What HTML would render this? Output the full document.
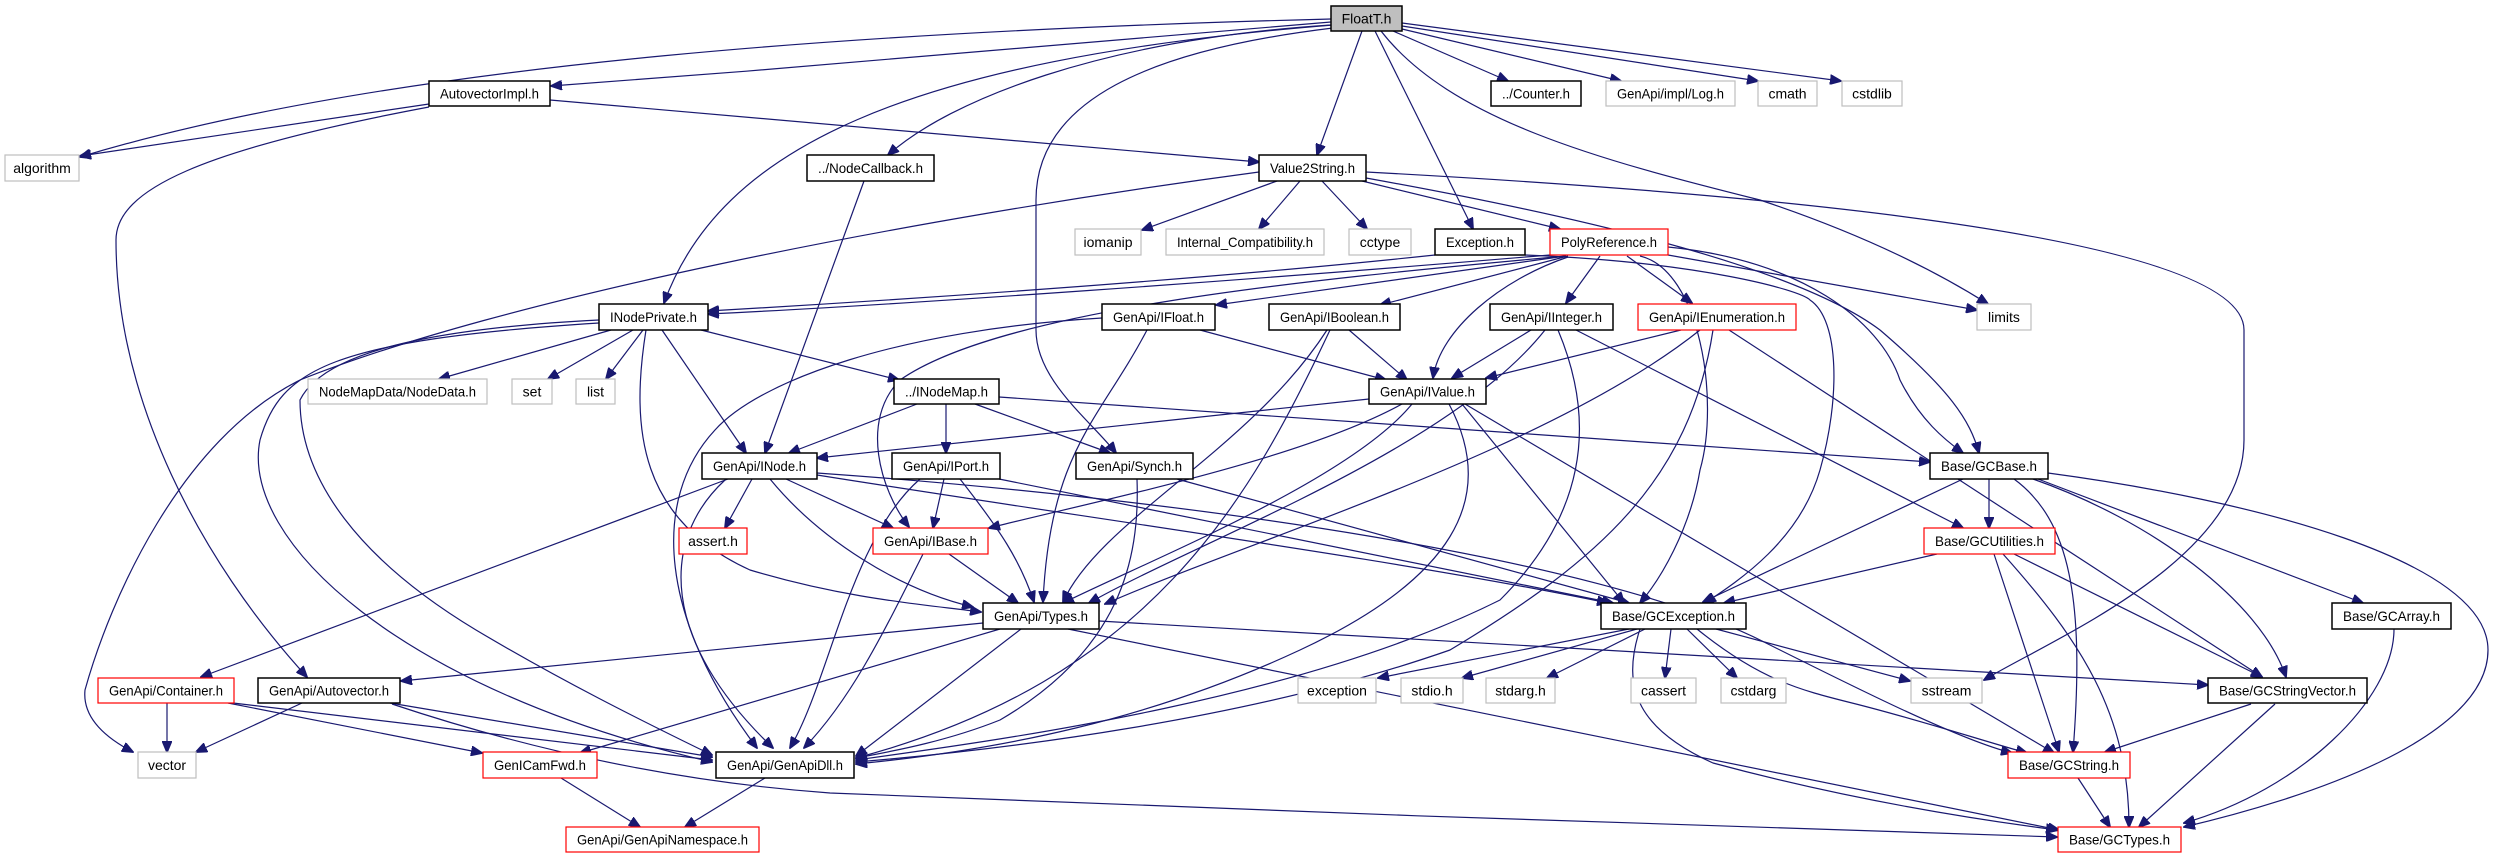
<!DOCTYPE html>
<html><head><meta charset="utf-8"><style>
html,body{margin:0;padding:0;background:#fff;}
svg{display:block;}
text{font-family:"Liberation Sans",Arial,sans-serif;font-size:14px;fill:#000;}
.e{fill:none;stroke:#191970;stroke-width:1.2;marker-end:url(#a);}
.b{fill:#fff;stroke:#000;stroke-width:1.5;}
.g{fill:#fff;stroke:#bfbfbf;stroke-width:1.2;}
.r{fill:#fff;stroke:#ff0000;stroke-width:1.2;}
.f{fill:#bfbfbf;stroke:#000;stroke-width:1.5;}
</style></head><body>
<svg width="2495" height="859" viewBox="0 0 2495 859" xmlns="http://www.w3.org/2000/svg">
<defs><marker id="a" markerWidth="12" markerHeight="10" refX="11" refY="5" orient="auto" markerUnits="userSpaceOnUse"><path d="M0,0 L12,5 L0,10 z" fill="#191970" stroke="#191970"/></marker></defs>
<g>
<!-- FloatT edges -->
<path class="e" d="M1331,19 C900,30 400,60 80,157"/>
<path class="e" d="M1331,22 C1000,50 800,68 551,86"/>
<path class="e" d="M1333,25 C900,60 720,150 664,303"/>
<path class="e" d="M1331,25 C1100,40 950,100 888,155"/>
<path class="e" d="M1333,28 C1150,50 1036,100 1036,200 L1036,330 C1036,380 1090,420 1116,453"/>
<path class="e" d="M1362,31 L1317,155"/>
<path class="e" d="M1375,31 L1473,229"/>
<path class="e" d="M1393,31 L1508,81"/>
<path class="e" d="M1402,29 L1621,81"/>
<path class="e" d="M1402,26 L1758,81"/>
<path class="e" d="M1402,23 L1841,81"/>
<path class="e" d="M1381,31 C1450,120 1600,160 1760,200 C1880,240 1950,280 1988,304"/>
<!-- AutovectorImpl -->
<path class="e" d="M429,104 L80,156"/>
<path class="e" d="M550,100 L1259,162"/>
<path class="e" d="M429,107 C200,150 116,190 116,240 C116,400 200,560 307,677"/>
<!-- Value2String -->
<path class="e" d="M1277,181 L1142,230"/>
<path class="e" d="M1300,181 L1259,229"/>
<path class="e" d="M1322,181 L1367,229"/>
<path class="e" d="M1362,181 L1560,229"/>
<path class="e" d="M1366,172 C1700,190 2244,230 2244,330 L2244,440 C2244,560 2050,640 1984,680"/>
<path class="e" d="M1366,178 C1600,220 1800,270 1880,330 C1950,390 1970,420 1979,453"/>
<path class="e" d="M1259,172 C900,220 500,300 300,380 C180,440 110,600 85,690 C82,720 110,740 133,752"/>
<!-- NodeCallback -->
<path class="e" d="M864,181 L765,453"/>
<!-- Exception / PolyReference -->
<path class="e" d="M1435,255 C1200,280 900,300 708,311"/>
<path class="e" d="M1550,255 C1250,280 900,305 708,314"/>
<path class="e" d="M1525,255 C1700,262 1800,290 1810,300 C1840,320 1840,400 1820,470 C1800,540 1740,580 1705,603"/>
<path class="e" d="M1668,247 C1800,260 1880,320 1900,380 C1920,420 1945,440 1963,453"/>
<path class="e" d="M1668,255 L1977,310"/>
<path class="e" d="M1566,256 C1300,280 1000,310 900,380 C860,420 880,490 909,527"/>
<path class="e" d="M1566,256 L1216,305"/>
<path class="e" d="M1568,256 L1380,305"/>
<path class="e" d="M1568,257 C1500,280 1440,330 1433,378"/>
<path class="e" d="M1600,256 L1566,303"/>
<path class="e" d="M1627,256 L1692,303"/>
<path class="e" d="M1640,256 C1700,270 1720,400 1700,470 C1690,530 1660,580 1640,603"/>
<!-- INodePrivate -->
<path class="e" d="M611,330 L439,379"/>
<path class="e" d="M633,330 L548,379"/>
<path class="e" d="M643,330 L606,379"/>
<path class="e" d="M701,330 L899,380"/>
<path class="e" d="M662,330 L746,453"/>
<path class="e" d="M646,330 C630,430 640,520 750,570 C850,600 930,605 981,612"/>
<path class="e" d="M599,323 C330,340 280,370 260,440 C240,540 400,690 712,762"/>
<path class="e" d="M599,320 C400,330 320,360 300,400 C300,480 360,560 476,630 C560,680 640,720 712,755"/>
<!-- IFloat -->
<path class="e" d="M1102,318 C900,330 760,380 715,430 C650,500 660,620 757,748"/>
<path class="e" d="M1147,330 C1100,420 1050,450 1043,602"/>
<path class="e" d="M1200,330 L1386,380"/>
<!-- IBoolean -->
<path class="e" d="M1349,330 L1407,380"/>
<path class="e" d="M1327,330 C1250,450 1100,520 1063,602"/>
<path class="e" d="M1330,330 C1250,500 1150,680 856,758"/>
<!-- IInteger -->
<path class="e" d="M1531,330 L1452,378"/>
<path class="e" d="M1545,330 C1450,450 1200,540 1089,603"/>
<path class="e" d="M1558,330 C1600,430 1580,520 1500,600 C1300,700 1000,740 856,760"/>
<path class="e" d="M1576,330 L1963,528"/>
<!-- IEnumeration -->
<path class="e" d="M1681,330 L1486,378"/>
<path class="e" d="M1700,330 C1550,450 1250,540 1105,604"/>
<path class="e" d="M1713,330 C1690,480 1600,560 1450,650 C1250,720 1000,750 856,762"/>
<path class="e" d="M1729,330 L2262,677"/>
<!-- INodeMap -->
<path class="e" d="M917,404 L789,453"/>
<path class="e" d="M946,404 L946,453"/>
<path class="e" d="M975,404 L1110,453"/>
<path class="e" d="M999,397 L1930,462"/>
<!-- IValue -->
<path class="e" d="M1369,399 L817,458"/>
<path class="e" d="M1402,404 C1300,460 1100,500 989,528"/>
<path class="e" d="M1412,404 C1350,480 1150,560 1063,603"/>
<path class="e" d="M1449,404 C1500,500 1450,580 1300,650 C1150,720 1000,750 856,764"/>
<path class="e" d="M1462,404 L1624,603"/>
<path class="e" d="M1465,404 L2054,753"/>
<!-- INode -->
<path class="e" d="M752,479 L725,528"/>
<path class="e" d="M728,479 L201,677"/>
<path class="e" d="M786,479 L893,528"/>
<path class="e" d="M725,480 C660,540 660,640 773,748"/>
<path class="e" d="M770,479 C820,540 900,590 973,607"/>
<path class="e" d="M817,473 C1200,500 1600,560 1760,640 C1860,690 1960,740 2012,753"/>
<path class="e" d="M817,475 C1100,520 1400,560 1608,603"/>
<!-- IPort -->
<path class="e" d="M944,479 L933,528"/>
<path class="e" d="M960,479 C1000,530 1020,560 1034,602"/>
<path class="e" d="M920,479 C850,540 830,680 790,748"/>
<path class="e" d="M999,479 L1613,603"/>
<!-- Synch -->
<path class="e" d="M1137,479 C1140,560 1120,650 1000,720 C950,740 900,750 856,758"/>
<path class="e" d="M1177,479 L1629,603"/>
<!-- IBase -->
<path class="e" d="M949,554 L1018,603"/>
<path class="e" d="M923,554 C880,640 850,700 804,748"/>
<!-- Types -->
<path class="e" d="M1021,629 L856,756"/>
<path class="e" d="M1068,629 L2059,830"/>
<path class="e" d="M1099,621 L2208,685"/>
<path class="e" d="M983,623 L401,681"/>
<path class="e" d="M1000,629 L580,753"/>
<!-- Container / Autovector / Fwd / Dll -->
<path class="e" d="M167,703 L167,752"/>
<path class="e" d="M228,703 L482,753"/>
<path class="e" d="M233,703 L712,760"/>
<path class="e" d="M302,703 L196,752"/>
<path class="e" d="M390,703 L712,757"/>
<path class="e" d="M392,704 C500,740 650,780 830,793 C1200,810 1700,825 2057,837"/>
<path class="e" d="M561,778 L640,827"/>
<path class="e" d="M765,778 L685,827"/>
<!-- GCException -->
<path class="e" d="M1629,629 L1378,678"/>
<path class="e" d="M1637,629 L1462,678"/>
<path class="e" d="M1645,629 L1547,678"/>
<path class="e" d="M1671,629 L1665,678"/>
<path class="e" d="M1687,629 L1737,678"/>
<path class="e" d="M1716,629 L1910,681"/>
<path class="e" d="M1697,629 C1760,680 1800,690 1852,703 C1920,720 1980,740 2027,753"/>
<path class="e" d="M1640,629 C1620,690 1640,730 1713,763 C1850,800 1980,820 2057,830"/>
<!-- GCBase -->
<path class="e" d="M1963,479 L1703,602"/>
<path class="e" d="M1989,479 L1989,528"/>
<path class="e" d="M2014,479 C2070,520 2085,600 2073,752"/>
<path class="e" d="M2033,479 C2150,520 2260,600 2286,677"/>
<path class="e" d="M2038,479 L2363,603"/>
<path class="e" d="M2048,473 C2250,500 2488,560 2488,650 C2488,740 2300,800 2184,827"/>
<!-- GCUtilities -->
<path class="e" d="M1937,554 L1724,603"/>
<path class="e" d="M1994,554 L2059,752"/>
<path class="e" d="M2003,554 C2080,640 2129,713 2129,827"/>
<path class="e" d="M2014,554 L2262,677"/>
<!-- GCStringVector / GCArray / GCString -->
<path class="e" d="M2251,704 L2105,752"/>
<path class="e" d="M2275,704 L2139,827"/>
<path class="e" d="M2394,629 C2394,700 2300,790 2184,823"/>
<path class="e" d="M2078,778 L2110,827"/>
</g>
<g>
<rect class="f" x="1331" y="6" width="71" height="25"/><text x="1366.5" y="23.5" text-anchor="middle">FloatT.h</text>
<rect class="b" x="429" y="81" width="121" height="25"/><text x="489.5" y="98.5" text-anchor="middle" textLength="99" lengthAdjust="spacingAndGlyphs">AutovectorImpl.h</text>
<rect class="b" x="1491" y="81" width="90" height="25"/><text x="1536" y="98.5" text-anchor="middle" textLength="68" lengthAdjust="spacingAndGlyphs">../Counter.h</text>
<rect class="g" x="1606" y="81" width="129" height="25"/><text x="1670.5" y="98.5" text-anchor="middle" textLength="107" lengthAdjust="spacingAndGlyphs">GenApi/impl/Log.h</text>
<rect class="g" x="1758" y="81" width="59" height="25"/><text x="1787.5" y="98.5" text-anchor="middle">cmath</text>
<rect class="g" x="1842" y="81" width="60" height="25"/><text x="1872" y="98.5" text-anchor="middle">cstdlib</text>
<rect class="g" x="5" y="155" width="74" height="26"/><text x="42" y="173" text-anchor="middle">algorithm</text>
<rect class="b" x="807" y="155" width="127" height="26"/><text x="870.5" y="173" text-anchor="middle" textLength="105" lengthAdjust="spacingAndGlyphs">../NodeCallback.h</text>
<rect class="b" x="1259" y="155" width="107" height="26"/><text x="1312.5" y="173" text-anchor="middle" textLength="85" lengthAdjust="spacingAndGlyphs">Value2String.h</text>
<rect class="g" x="1075" y="229" width="66" height="26"/><text x="1108" y="247" text-anchor="middle">iomanip</text>
<rect class="g" x="1166" y="229" width="158" height="26"/><text x="1245" y="247" text-anchor="middle" textLength="136" lengthAdjust="spacingAndGlyphs">Internal_Compatibility.h</text>
<rect class="g" x="1349" y="229" width="62" height="26"/><text x="1380" y="247" text-anchor="middle">cctype</text>
<rect class="b" x="1435" y="229" width="90" height="26"/><text x="1480" y="247" text-anchor="middle" textLength="68" lengthAdjust="spacingAndGlyphs">Exception.h</text>
<rect class="r" x="1550" y="229" width="118" height="26"/><text x="1609" y="247" text-anchor="middle" textLength="96" lengthAdjust="spacingAndGlyphs">PolyReference.h</text>
<rect class="b" x="599" y="304" width="109" height="26"/><text x="653.5" y="322" text-anchor="middle" textLength="87" lengthAdjust="spacingAndGlyphs">INodePrivate.h</text>
<rect class="b" x="1102" y="304" width="113" height="26"/><text x="1158.5" y="322" text-anchor="middle" textLength="91" lengthAdjust="spacingAndGlyphs">GenApi/IFloat.h</text>
<rect class="b" x="1269" y="304" width="131" height="26"/><text x="1334.5" y="322" text-anchor="middle" textLength="109" lengthAdjust="spacingAndGlyphs">GenApi/IBoolean.h</text>
<rect class="b" x="1490" y="304" width="123" height="26"/><text x="1551.5" y="322" text-anchor="middle" textLength="101" lengthAdjust="spacingAndGlyphs">GenApi/IInteger.h</text>
<rect class="r" x="1638" y="304" width="158" height="26"/><text x="1717" y="322" text-anchor="middle" textLength="136" lengthAdjust="spacingAndGlyphs">GenApi/IEnumeration.h</text>
<rect class="g" x="1977" y="304" width="54" height="26"/><text x="2004" y="322" text-anchor="middle">limits</text>
<rect class="g" x="308" y="379" width="179" height="25"/><text x="397.5" y="396.5" text-anchor="middle" textLength="157" lengthAdjust="spacingAndGlyphs">NodeMapData/NodeData.h</text>
<rect class="g" x="512" y="379" width="40" height="25"/><text x="532" y="396.5" text-anchor="middle">set</text>
<rect class="g" x="576" y="379" width="39" height="25"/><text x="595.5" y="396.5" text-anchor="middle">list</text>
<rect class="b" x="894" y="379" width="105" height="25"/><text x="946.5" y="396.5" text-anchor="middle" textLength="83" lengthAdjust="spacingAndGlyphs">../INodeMap.h</text>
<rect class="b" x="1369" y="379" width="117" height="25"/><text x="1427.5" y="396.5" text-anchor="middle" textLength="95" lengthAdjust="spacingAndGlyphs">GenApi/IValue.h</text>
<rect class="b" x="702" y="453" width="115" height="26"/><text x="759.5" y="471" text-anchor="middle" textLength="93" lengthAdjust="spacingAndGlyphs">GenApi/INode.h</text>
<rect class="b" x="892" y="453" width="108" height="26"/><text x="946" y="471" text-anchor="middle" textLength="86" lengthAdjust="spacingAndGlyphs">GenApi/IPort.h</text>
<rect class="b" x="1076" y="453" width="117" height="26"/><text x="1134.5" y="471" text-anchor="middle" textLength="95" lengthAdjust="spacingAndGlyphs">GenApi/Synch.h</text>
<rect class="b" x="1930" y="453" width="118" height="26"/><text x="1989" y="471" text-anchor="middle" textLength="96" lengthAdjust="spacingAndGlyphs">Base/GCBase.h</text>
<rect class="r" x="679" y="528" width="68" height="26"/><text x="713" y="546" text-anchor="middle">assert.h</text>
<rect class="r" x="873" y="528" width="115" height="26"/><text x="930.5" y="546" text-anchor="middle" textLength="93" lengthAdjust="spacingAndGlyphs">GenApi/IBase.h</text>
<rect class="r" x="1924" y="528" width="131" height="26"/><text x="1989.5" y="546" text-anchor="middle" textLength="109" lengthAdjust="spacingAndGlyphs">Base/GCUtilities.h</text>
<rect class="b" x="983" y="603" width="116" height="26"/><text x="1041" y="621" text-anchor="middle" textLength="94" lengthAdjust="spacingAndGlyphs">GenApi/Types.h</text>
<rect class="b" x="1601" y="603" width="145" height="26"/><text x="1673.5" y="621" text-anchor="middle" textLength="123" lengthAdjust="spacingAndGlyphs">Base/GCException.h</text>
<rect class="b" x="2332" y="603" width="119" height="26"/><text x="2391.5" y="621" text-anchor="middle" textLength="97" lengthAdjust="spacingAndGlyphs">Base/GCArray.h</text>
<rect class="r" x="98" y="678" width="136" height="25"/><text x="166" y="695.5" text-anchor="middle" textLength="114" lengthAdjust="spacingAndGlyphs">GenApi/Container.h</text>
<rect class="b" x="258" y="678" width="142" height="25"/><text x="329" y="695.5" text-anchor="middle" textLength="120" lengthAdjust="spacingAndGlyphs">GenApi/Autovector.h</text>
<rect class="g" x="1298" y="678" width="78" height="25"/><text x="1337" y="695.5" text-anchor="middle">exception</text>
<rect class="g" x="1401" y="678" width="62" height="25"/><text x="1432" y="695.5" text-anchor="middle">stdio.h</text>
<rect class="g" x="1486" y="678" width="69" height="25"/><text x="1520.5" y="695.5" text-anchor="middle">stdarg.h</text>
<rect class="g" x="1631" y="678" width="65" height="25"/><text x="1663.5" y="695.5" text-anchor="middle">cassert</text>
<rect class="g" x="1721" y="678" width="65" height="25"/><text x="1753.5" y="695.5" text-anchor="middle">cstdarg</text>
<rect class="g" x="1911" y="678" width="71" height="25"/><text x="1946.5" y="695.5" text-anchor="middle">sstream</text>
<rect class="b" x="2208" y="678" width="159" height="25"/><text x="2287.5" y="695.5" text-anchor="middle" textLength="137" lengthAdjust="spacingAndGlyphs">Base/GCStringVector.h</text>
<rect class="g" x="138" y="752" width="58" height="26"/><text x="167" y="770" text-anchor="middle">vector</text>
<rect class="r" x="483" y="752" width="114" height="26"/><text x="540" y="770" text-anchor="middle" textLength="92" lengthAdjust="spacingAndGlyphs">GenICamFwd.h</text>
<rect class="b" x="716" y="752" width="138" height="26"/><text x="785" y="770" text-anchor="middle" textLength="116" lengthAdjust="spacingAndGlyphs">GenApi/GenApiDll.h</text>
<rect class="r" x="2008" y="752" width="122" height="26"/><text x="2069" y="770" text-anchor="middle" textLength="100" lengthAdjust="spacingAndGlyphs">Base/GCString.h</text>
<rect class="r" x="566" y="827" width="193" height="25"/><text x="662.5" y="844.5" text-anchor="middle" textLength="171" lengthAdjust="spacingAndGlyphs">GenApi/GenApiNamespace.h</text>
<rect class="r" x="2058" y="827" width="123" height="25"/><text x="2119.5" y="844.5" text-anchor="middle" textLength="101" lengthAdjust="spacingAndGlyphs">Base/GCTypes.h</text>
</g>
</svg>
</body></html>
